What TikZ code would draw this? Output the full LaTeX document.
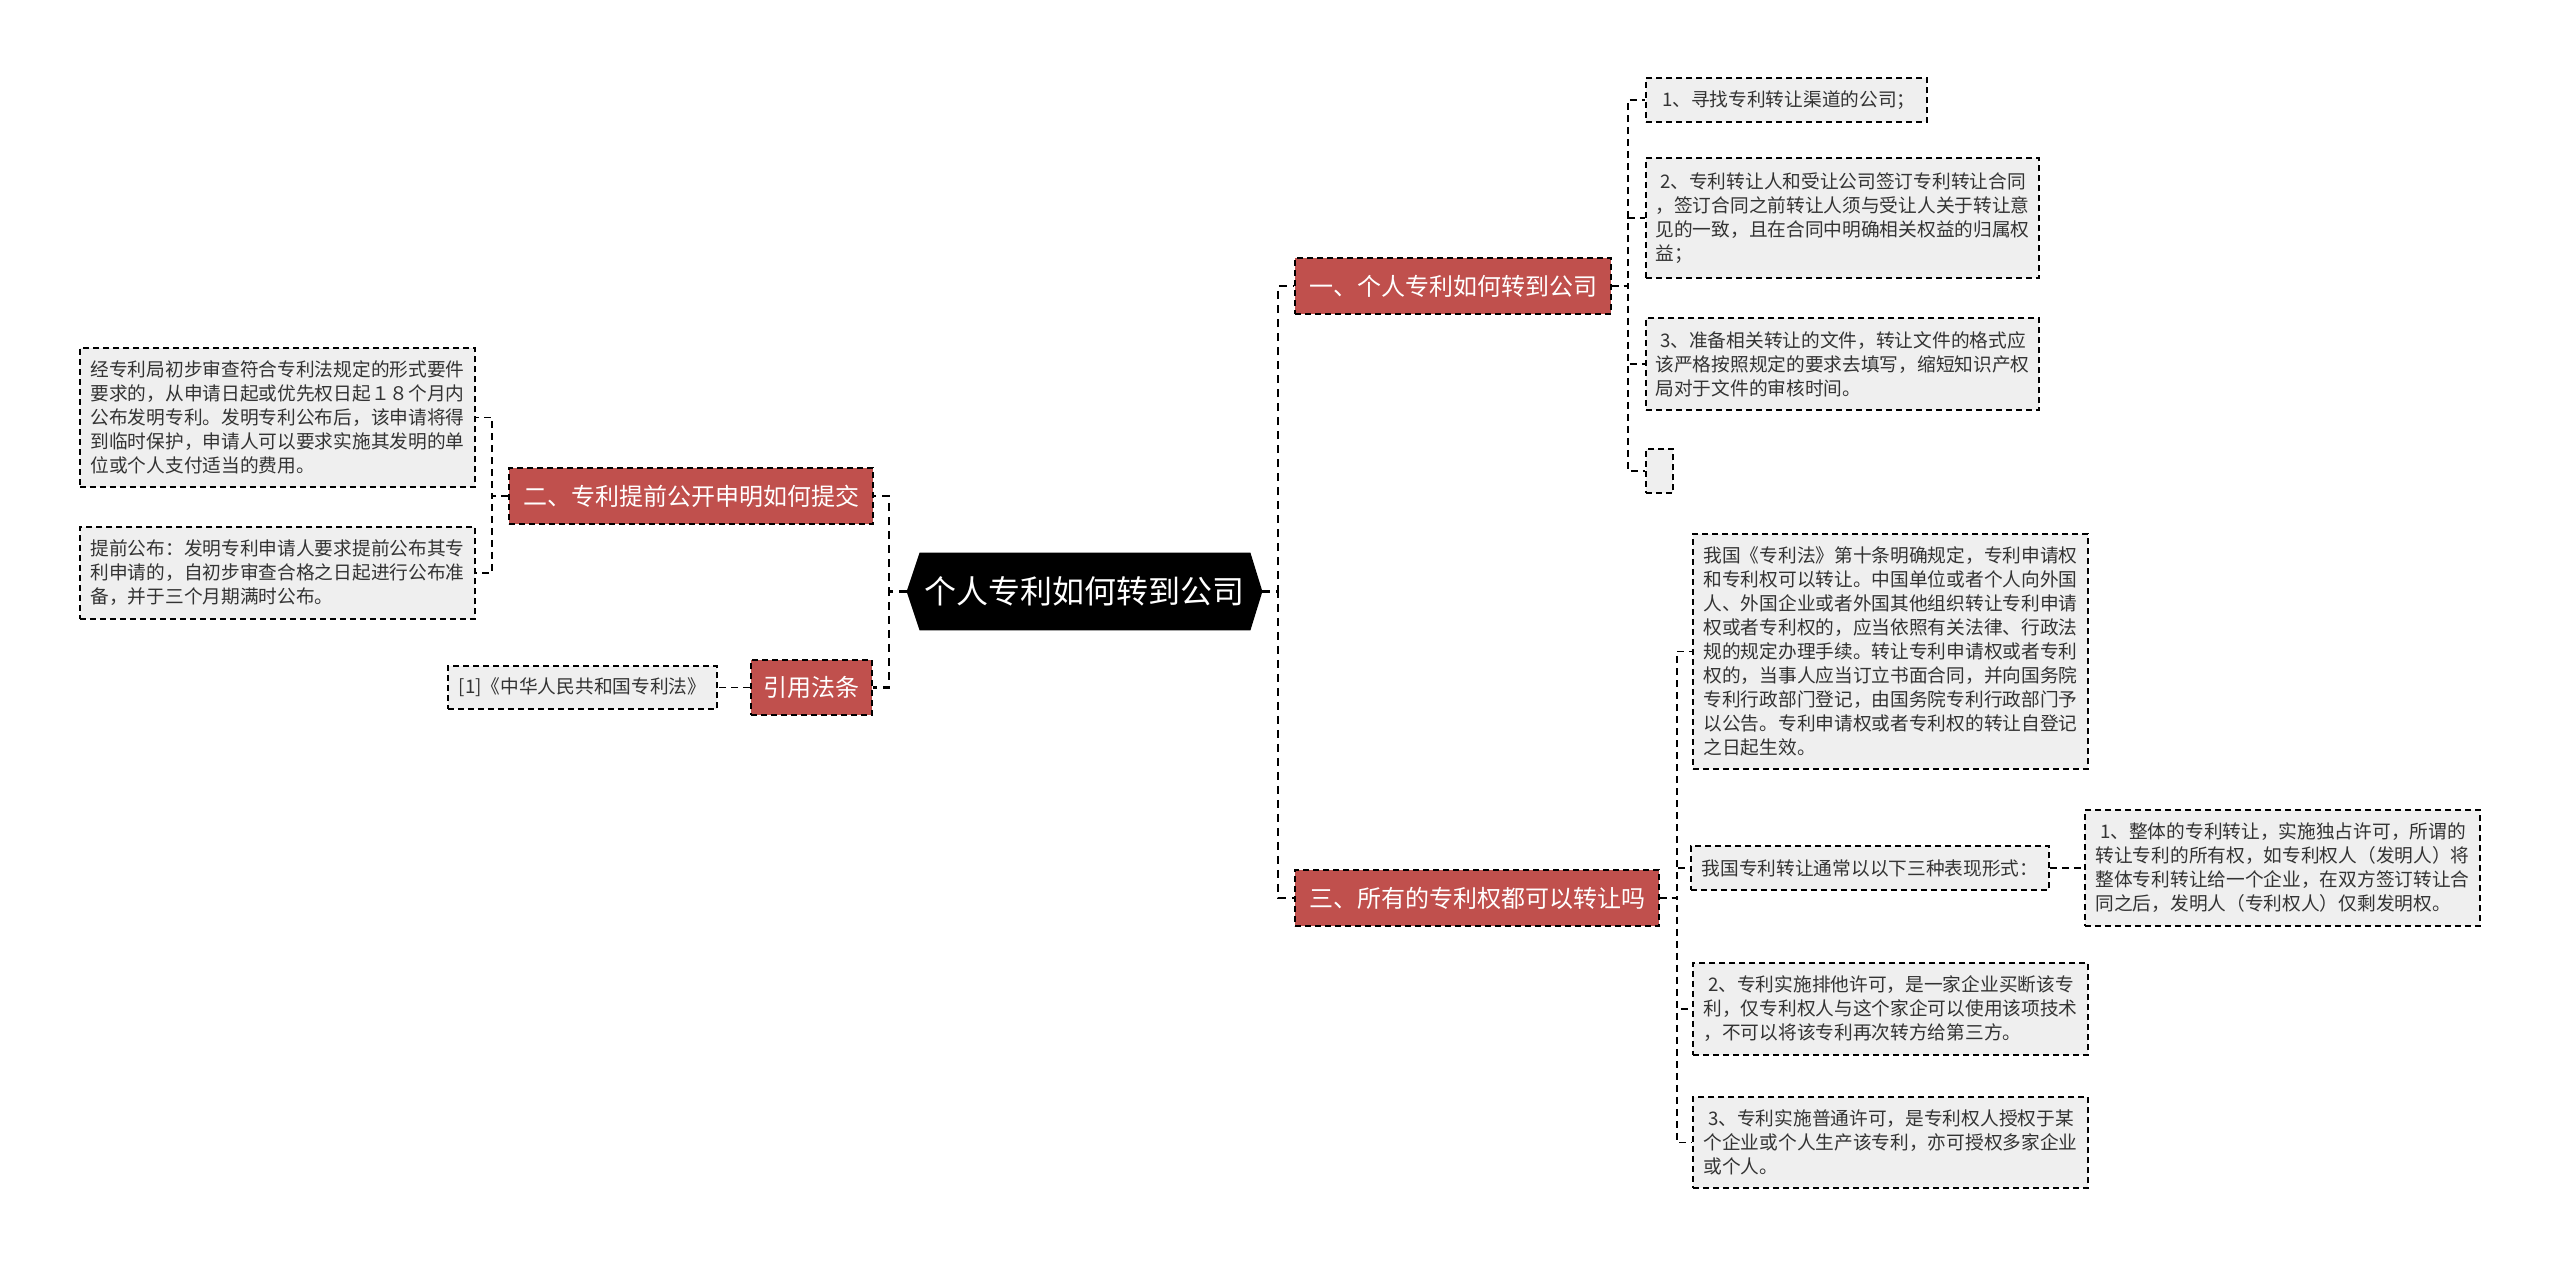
\documentclass[tikz,border=0pt]{standalone}
\usepackage{fontspec}
\setmainfont{Noto Sans CJK SC}
\usetikzlibrary{backgrounds}
\definecolor{redn}{HTML}{C0504D}
\definecolor{leafg}{HTML}{EFEFEF}
\definecolor{txt}{HTML}{333333}
\tikzset{
  leaf/.style={draw=black, dash pattern=on 3pt off 2pt, line width=0.8pt, fill=leafg, text=txt,
    font=\fontsize{9.35pt}{12pt}\selectfont, align=left, inner xsep=2pt, inner ysep=0pt},
  branch/.style={draw=black, dash pattern=on 3pt off 2pt, line width=0.8pt, fill=redn, text=white,
    font=\fontsize{12pt}{14pt}\selectfont, inner xsep=2pt, inner ysep=0pt},
  rootbox/.style={text=white, font=\fontsize{16pt}{18pt}\selectfont, inner sep=0pt},
  conn/.style={draw=black, dash pattern=on 4pt off 3pt, line width=1.1pt},
  conn2/.style={draw=black, dash pattern=on 3.5pt off 2.5pt, line width=0.8pt},
}
\begin{document}
\begin{tikzpicture}[x=0.5pt,y=-0.5pt]
\useasboundingbox (0,0) rectangle (2560,1269);
% root
\node[rootbox, minimum width=177.5pt, minimum height=38.5pt] (root) at (1084.5,591.5) {个人专利如何转到公司};
\begin{scope}[on background layer]
\fill[black] (root.west) -- ([xshift=6.5pt]root.north west) -- ([xshift=-6pt]root.north east) -- (root.east)
  -- ([xshift=-6pt]root.south east) -- ([xshift=6.5pt]root.south west) -- cycle;
\end{scope}
% branches
\node[branch, minimum width=158pt, minimum height=28pt] (n1) at (1453,286) {一、个人专利如何转到公司};
\node[branch, minimum width=182pt, minimum height=28pt] (n2) at (691,496) {二、专利提前公开申明如何提交};
\node[branch, minimum width=60.5pt, minimum height=27.5pt] (n4) at (811.5,687.5) {引用法条};
\node[branch, minimum width=182pt, minimum height=28pt] (n3) at (1477,898) {三、所有的专利权都可以转让吗};
% left leaves
\node[leaf, minimum width=197.5pt, minimum height=69.5pt] (l1) at (277.5,417.5) {经专利局初步审查符合专利法规定的形式要件\\要求的，从申请日起或优先权日起１８个月内\\公布发明专利。发明专利公布后，该申请将得\\到临时保护，申请人可以要求实施其发明的单\\位或个人支付适当的费用。};
\node[leaf, minimum width=197.5pt, minimum height=46pt] (l2) at (277.5,573) {提前公布：发明专利申请人要求提前公布其专\\利申请的，自初步审查合格之日起进行公布准\\备，并于三个月期满时公布。};
\node[leaf, minimum width=134.5pt, minimum height=21.5pt] (ref) at (582.5,687.5) {[1]《中华人民共和国专利法》};
% right leaves of n1
\node[leaf, minimum width=140.5pt, minimum height=22pt] (r1a) at (1786.5,100) {\hspace*{.25em}1、寻找专利转让渠道的公司；};
\node[leaf, minimum width=196.5pt, minimum height=60pt] (r1b) at (1842.5,218) {\hspace*{.25em}2、专利转让人和受让公司签订专利转让合同\\，签订合同之前转让人须与受让人关于转让意\\见的一致，且在合同中明确相关权益的归属权\\益；};
\node[leaf, minimum width=196.5pt, minimum height=46pt] (r1c) at (1842.5,364) {\hspace*{.25em}3、准备相关转让的文件，转让文件的格式应\\该严格按照规定的要求去填写，缩短知识产权\\局对于文件的审核时间。};
\node[leaf, minimum width=13.5pt, minimum height=22pt] (r1d) at (1659.5,471) {};
% right leaves of n3
\node[leaf, minimum width=197.5pt, minimum height=117.5pt] (r3a) at (1890.5,651.5) {我国《专利法》第十条明确规定，专利申请权\\和专利权可以转让。中国单位或者个人向外国\\人、外国企业或者外国其他组织转让专利申请\\权或者专利权的，应当依照有关法律、行政法\\规的规定办理手续。转让专利申请权或者专利\\权的，当事人应当订立书面合同，并向国务院\\专利行政部门登记，由国务院专利行政部门予\\以公告。专利申请权或者专利权的转让自登记\\之日起生效。};
\node[leaf, minimum width=179pt, minimum height=22pt] (r3b) at (1870,868) {我国专利转让通常以以下三种表现形式：};
\node[leaf, minimum width=197.5pt, minimum height=58pt] (r3b1) at (2282.5,868) {\hspace*{.25em}1、整体的专利转让，实施独占许可，所谓的\\转让专利的所有权，如专利权人（发明人）将\\整体专利转让给一个企业，在双方签订转让合\\同之后，发明人（专利权人）仅剩发明权。};
\node[leaf, minimum width=197.5pt, minimum height=46pt] (r3c) at (1890.5,1009) {\hspace*{.25em}2、专利实施排他许可，是一家企业买断该专\\利，仅专利权人与这个家企可以使用该项技术\\，不可以将该专利再次转方给第三方。};
\node[leaf, minimum width=197.5pt, minimum height=45.5pt] (r3d) at (1890.5,1142.5) {\hspace*{.25em}3、专利实施普通许可，是专利权人授权于某\\个企业或个人生产该专利，亦可授权多家企业\\或个人。};
% trunk coordinates
\coordinate (tl) at (889,591.5);
\coordinate (tr) at (1278,591.5);
\coordinate (t2) at (492,496);
\coordinate (t1) at (1628,286);
\coordinate (t3) at (1677,898);
% connectors
\draw[conn] (root.west) -- (tl) |- (n2.east);
\draw[conn] (root.west) -- (tl) |- (n4.east);
\draw[conn] (root.east) -- (tr) |- (n1.west);
\draw[conn] (root.east) -- (tr) |- (n3.west);
\draw[conn2] (n2.west) -- (t2) |- (l1.east);
\draw[conn2] (n2.west) -- (t2) |- (l2.east);
\draw[conn2] (n4.west) -- (ref.east);
\draw[conn2] (n1.east) -- (t1) |- (r1a.west);
\draw[conn2] (n1.east) -- (t1) |- (r1b.west);
\draw[conn2] (n1.east) -- (t1) |- (r1c.west);
\draw[conn2] (n1.east) -- (t1) |- (r1d.west);
\draw[conn2] (n3.east) -- (t3) |- (r3a.west);
\draw[conn2] (n3.east) -- (t3) |- (r3b.west);
\draw[conn2] (n3.east) -- (t3) |- (r3c.west);
\draw[conn2] (n3.east) -- (t3) |- (r3d.west);
\draw[conn2] (r3b.east) -- (r3b.east -| r3b1.west);
\end{tikzpicture}
\end{document}
